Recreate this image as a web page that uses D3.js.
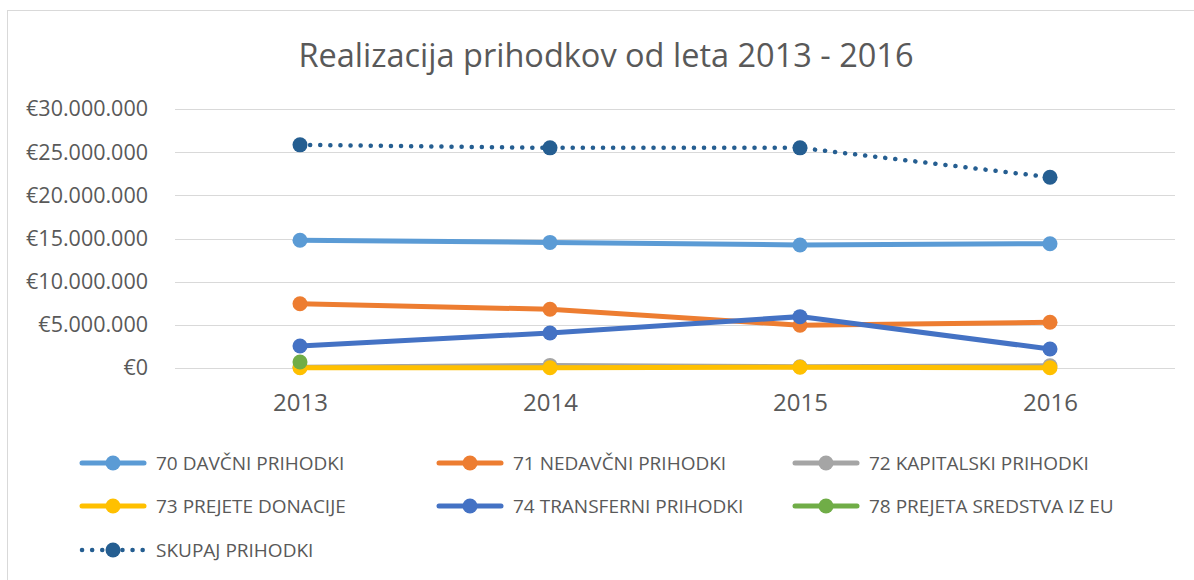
<!DOCTYPE html>
<html>
<head>
<meta charset="utf-8">
<script src="https://cdn.jsdelivr.net/npm/d3@7"></script>
<style>
  body { margin: 0; background: #fff; }
  svg { display: block; font-family: "Open Sans", "Noto Sans", sans-serif; }
</style>
</head>
<body>
<svg id="chart" width="1194" height="580"></svg>
<script>
// data
var years = ["2013", "2014", "2015", "2016"];
var yTicks = [0, 5000000, 10000000, 15000000, 20000000, 25000000, 30000000];
var seriesNames = ["70 DAVČNI PRIHODKI", "71 NEDAVČNI PRIHODKI", "72 KAPITALSKI PRIHODKI",
  "73 PREJETE DONACIJE", "74 TRANSFERNI PRIHODKI", "78 PREJETA SREDSTVA IZ EU", "SKUPAJ PRIHODKI"];
var davcni = [14800000, 14550000, 14250000, 14400000];
var nedavcni = [7450000, 6800000, 4950000, 5300000];
var kapitalski = [100000, 300000, 150000, 250000];
var donacije = [30000, 30000, 80000, 30000];
var transferni = [2550000, 4050000, 5950000, 2200000];
var sredstvaEU = [700000, null, null, null];
var skupaj = [25850000, 25500000, 25500000, 22100000];

var seriesValues = [davcni, nedavcni, kapitalski, donacije, transferni, sredstvaEU, skupaj];
var colors = ["#5B9BD5", "#ED7D31", "#A5A5A5", "#FFC000", "#4472C4", "#70AD47", "#255E91"];

var svg = d3.select("#chart");

// outer frame of the chart
svg.append("rect")
  .attr("x", 7.5).attr("y", 10.5)
  .attr("width", 1220).attr("height", 600)
  .attr("fill", "none")
  .attr("stroke", "#d9d9d9");

svg.append("text")
  .attr("x", 606).attr("y", 67)
  .attr("text-anchor", "middle")
  .style("font-size", "32.5px")
  .attr("fill", "#595959")
  .text("Realizacija prihodkov od leta 2013 - 2016");

var x = d3.scalePoint().domain(years).range([175, 1175]).padding(0.5);
var y = d3.scaleLinear().domain([0, 30000000]).range([368, 109]);

var fmt = function(v) { return "€" + d3.format(",")(v).replace(/,/g, "."); };

// grid
svg.append("g")
  .selectAll("line")
  .data(yTicks)
  .enter().append("line")
    .attr("x1", 175).attr("x2", 1175)
    .attr("y1", function(d) { return Math.round(y(d)) + 0.5; })
    .attr("y2", function(d) { return Math.round(y(d)) + 0.5; })
    .attr("stroke", "#d9d9d9")
    .attr("stroke-width", 1);

var yAxis = svg.append("g")
  .attr("transform", "translate(175,0)")
  .call(d3.axisLeft(y).tickValues(yTicks).tickFormat(fmt).tickSize(0).tickPadding(27));
yAxis.select(".domain").remove();
yAxis.selectAll("text")
  .style("font-size", "21.5px")
  .style("font-family", "\"Open Sans\", sans-serif")
  .attr("fill", "#595959");

var xAxis = svg.append("g")
  .attr("transform", "translate(0,368)")
  .call(d3.axisBottom(x).tickSize(0).tickPadding(26));
xAxis.select(".domain").remove();
xAxis.selectAll("text")
  .style("font-size", "24px")
  .style("font-family", "\"Open Sans\", sans-serif")
  .attr("fill", "#595959");

var line = d3.line()
  .defined(function(d) { return d != null; })
  .x(function(d, i) { return x(years[i]); })
  .y(function(d) { return y(d); });

seriesValues.forEach(function(vals, s) {
  var isTotal = s === 6;
  svg.append("path")
    .datum(vals)
    .attr("d", line)
    .attr("fill", "none")
    .attr("stroke", colors[s])
    .attr("stroke-width", isTotal ? 4.5 : 5)
    .attr("stroke-linecap", "round")
    .attr("stroke-dasharray", isTotal ? "0.1,10" : null);

  svg.append("g")
    .selectAll("circle")
    .data(vals.map(function(v, i) { return {v: v, i: i}; }).filter(function(d) { return d.v != null; }))
    .enter().append("circle")
      .attr("cx", function(d) { return x(years[d.i]); })
      .attr("cy", function(d) { return y(d.v); })
      .attr("r", 7.5)
      .attr("fill", colors[s]);
});

// legend
var legCols = [80, 437, 793];
var legRows = [463, 506, 550];
var leg = svg.append("g");
seriesNames.forEach(function(name, s) {
  var lx = legCols[s % 3], ly = legRows[Math.floor(s / 3)];
  var g = leg.append("g").attr("transform", "translate(" + lx + "," + ly + ")");
  var isTotal = s === 6;
  g.append("line")
    .attr("x1", 2).attr("x2", 64)
    .attr("y1", 0).attr("y2", 0)
    .attr("stroke", colors[s])
    .attr("stroke-width", isTotal ? 4.5 : 5)
    .attr("stroke-linecap", "round")
    .attr("stroke-dasharray", isTotal ? "0.1,10" : null);
  g.append("circle").attr("cx", 33).attr("cy", 0).attr("r", 7.5).attr("fill", colors[s]);
  g.append("text")
    .attr("x", 76).attr("y", 0).attr("dy", "0.36em")
    .style("font-size", "19px")
    .attr("fill", "#595959")
    .text(name);
});
</script>
</body>
</html>
